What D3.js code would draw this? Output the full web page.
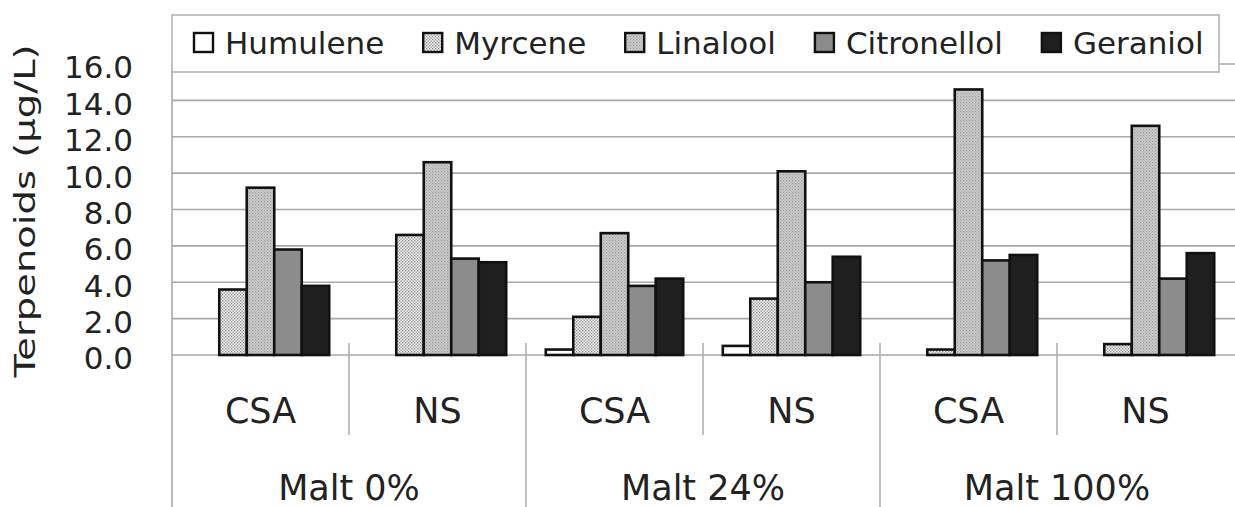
<!DOCTYPE html>
<html><head><meta charset="utf-8">
<script src="https://cdn.jsdelivr.net/npm/d3@7"></script>
<style>
html,body{margin:0;padding:0;background:#fff;}
text{font-family:"DejaVu Sans",Verdana,sans-serif;fill:#222;}
</style></head>
<body>
<svg id="chart" width="1235" height="507"></svg>
<script>
// ---- data ----
const groups = ["Malt 0%", "Malt 24%", "Malt 100%"];
const subcats = ["CSA", "NS"];
const series = ["Humulene", "Myrcene", "Linalool", "Citronellol", "Geraniol"];
const humulene    = [0.0, 0.0, 0.3, 0.5, 0.0, 0.0];
const myrcene     = [3.6, 6.6, 2.1, 3.1, 0.3, 0.6];
const linalool    = [9.2, 10.6, 6.7, 10.1, 14.6, 12.6];
const citronellol = [5.8, 5.3, 3.8, 4.0, 5.2, 4.2];
const geraniol    = [3.8, 5.1, 4.2, 5.4, 5.5, 5.6];
const yTicks = [0, 2, 4, 6, 8, 10, 12, 14, 16];
const yTitle = "Terpenoids (\u00b5g/L)";

(function () {
const values = [humulene, myrcene, linalool, citronellol, geraniol];
const cats = [];
groups.forEach((g, gi) => subcats.forEach((s, si) => cats.push({key: g + "|" + s, group: g, sub: s, gi, si})));

const svg = d3.select("#chart");
const pLeft = 172, pRight = 1234, pTop = 64, pBase = 355;

// patterns
const defs = svg.append("defs");
const pm = defs.append("pattern").attr("id", "pMyr").attr("patternUnits", "userSpaceOnUse").attr("width", 3).attr("height", 3);
pm.append("rect").attr("width", 3).attr("height", 3).attr("fill", "#f2f2f2");
pm.append("rect").attr("x", 0).attr("y", 0).attr("width", 1.3).attr("height", 1.3).attr("fill", "#8a8a8a");
pm.append("rect").attr("x", 1.5).attr("y", 1.5).attr("width", 1.3).attr("height", 1.3).attr("fill", "#8a8a8a");
const pl = defs.append("pattern").attr("id", "pLin").attr("patternUnits", "userSpaceOnUse").attr("width", 3).attr("height", 3);
pl.append("rect").attr("width", 3).attr("height", 3).attr("fill", "#cdcdcd");
pl.append("rect").attr("x", 0).attr("y", 0).attr("width", 1.2).attr("height", 1.2).attr("fill", "#9a9a9a");
pl.append("rect").attr("x", 1.5).attr("y", 1.5).attr("width", 1.2).attr("height", 1.2).attr("fill", "#a8a8a8");
const fills = ["#ffffff", "url(#pMyr)", "url(#pLin)", "#8c8c8c", "#1f1f1f"];

const x0 = d3.scaleBand().domain(cats.map(c => c.key)).range([pLeft, pRight]).paddingInner(0).paddingOuter(0);
const x1 = d3.scaleBand().domain(series).range([0, x0.bandwidth()]).paddingInner(0).paddingOuter(0.72);
const y = d3.scaleLinear().domain([0, 16]).range([pBase, pTop]);

// gridlines
svg.append("g").selectAll("line").data(yTicks).join("line")
  .attr("x1", pLeft).attr("x2", 1235)
  .attr("y1", d => y(d)).attr("y2", d => y(d))
  .attr("stroke", "#a9a9a9").attr("stroke-width", 1.6);

// y axis tick labels
const yAxis = d3.axisLeft(y).tickValues(yTicks).tickFormat(d3.format(".1f")).tickSize(0).tickPadding(39);
const ya = svg.append("g").attr("transform", `translate(${pLeft},0)`).call(yAxis);
ya.select(".domain").remove();
ya.selectAll("text").attr("font-size", 31).attr("fill", "#222").attr("dy", "0.45em")
  .style("font-family", "DejaVu Sans");

// left axis line
svg.append("line").attr("x1", pLeft).attr("x2", pLeft).attr("y1", pTop).attr("y2", 507)
  .attr("stroke", "#a9a9a9").attr("stroke-width", 1.6);

// separators
cats.forEach((c, i) => {
  if (i === 0) return;
  const xx = x0(c.key);
  const long = c.si === 0;
  svg.append("line").attr("x1", xx).attr("x2", xx).attr("y1", pBase - 12).attr("y2", long ? 507 : 435)
    .attr("stroke", "#b0b0b0").attr("stroke-width", 1.6);
});

// bars
const gBars = svg.append("g");
series.forEach((s, si) => {
  gBars.append("g").selectAll("rect").data(cats).join("rect")
    .attr("x", (c) => x0(c.key) + x1(s))
    .attr("width", x1.bandwidth())
    .attr("y", (c, i) => y(values[si][i]))
    .attr("height", (c, i) => pBase - y(values[si][i]))
    .attr("fill", fills[si])
    .attr("stroke", (c, i) => values[si][i] > 0 ? "#111" : "none")
    .attr("stroke-width", 2.6);
});

// category labels
svg.append("g").selectAll("text").data(cats).join("text")
  .attr("x", c => x0(c.key) + x0.bandwidth() / 2)
  .attr("y", 423)
  .attr("text-anchor", "middle").attr("font-size", 35)
  .text(c => c.sub);
svg.append("g").selectAll("text").data(groups).join("text")
  .attr("x", (g, gi) => (x0(cats[gi * 2].key) + x0(cats[gi * 2 + 1].key) + x0.bandwidth()) / 2)
  .attr("y", 500)
  .attr("text-anchor", "middle").attr("font-size", 35)
  .text(g => g);

// y title
svg.append("text")
  .attr("transform", "translate(35,211) rotate(-90) scale(1.4,1)")
  .attr("text-anchor", "middle").attr("font-size", 27.5)
  .text(yTitle);

// legend
const lg = svg.append("g");
lg.append("rect").attr("x", 172).attr("y", 15).attr("width", 1047).attr("height", 57)
  .attr("fill", "#fff").attr("stroke", "#b5b5b5").attr("stroke-width", 1.6);
let lx = 194;
series.forEach((s, si) => {
  lg.append("rect").attr("x", lx).attr("y", 33).attr("width", 19).attr("height", 19)
    .attr("fill", fills[si]).attr("stroke", "#111").attr("stroke-width", 2.4);
  const t = lg.append("text").attr("x", lx + 31).attr("y", 54).attr("font-size", 31).text(s);
  lx = lx + 31 + t.node().getComputedTextLength() + 39;
});
})();
</script>
</body></html>
